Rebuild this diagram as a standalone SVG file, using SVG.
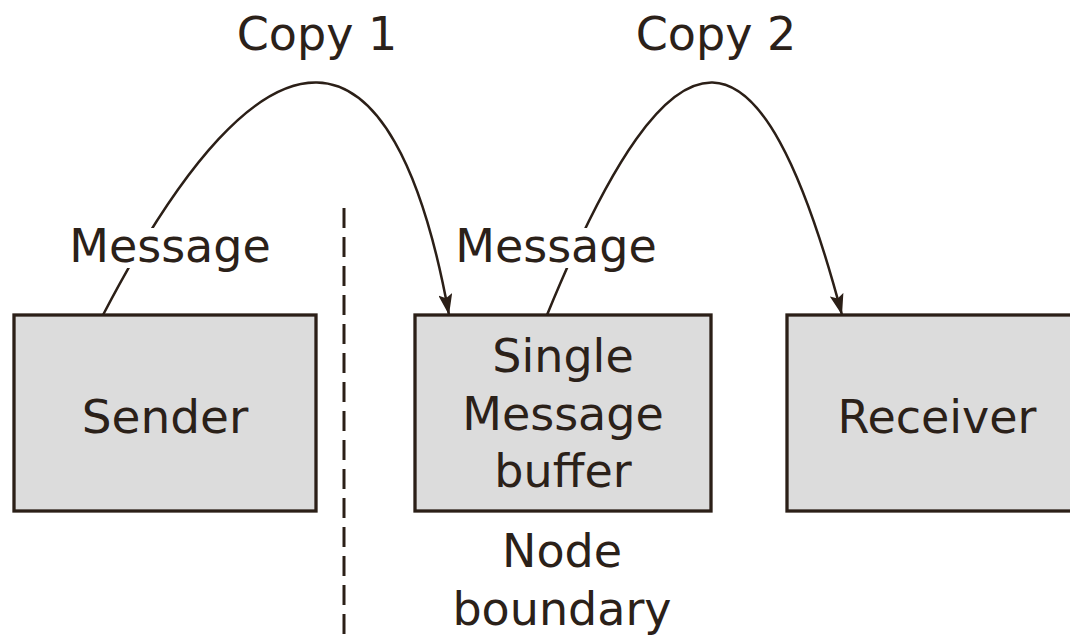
<svg xmlns="http://www.w3.org/2000/svg" width="1070" height="636" viewBox="0 0 1070 636">
<style>
.box{fill:#dcdcdc;stroke:#2b1f17;stroke-width:3.3}
.t{font-family:"DejaVu Sans",Verdana,sans-serif;font-size:46px;fill:#2b2119;text-anchor:middle}
.c{fill:none;stroke:#2b1f17;stroke-width:2.5}
</style>
<defs>
<marker id="ah" markerUnits="userSpaceOnUse" markerWidth="22" markerHeight="14" refX="21" refY="7" orient="auto">
<path d="M0,0 L21,7 L0,14 L4,7 Z" fill="#2b1f17"/>
</marker>
</defs>
<rect width="1070" height="636" fill="#ffffff"/>
<g id="boundary">
<line x1="344" y1="208" x2="344" y2="636" stroke="#2b1f17" stroke-width="3" stroke-dasharray="20 9"/>
<text class="t" x="562" y="567">Node</text>
<text class="t" x="562" y="625">boundary</text>
</g>
<g id="connectors">
<path class="c" d="M103,315 C267,0 394,10 449,315" marker-end="url(#ah)"/>
<path class="c" d="M547,315 C676,0 761,10 842,315" marker-end="url(#ah)"/>
<rect x="72" y="228" width="196" height="40" fill="#ffffff"/>
<rect x="456" y="228" width="200" height="40" fill="#ffffff"/>
<text class="t" x="170" y="262">Message</text>
<text class="t" x="556" y="262">Message</text>
<text class="t" x="317" y="50">Copy 1</text>
<text class="t" x="716" y="50">Copy 2</text>
</g>
<g id="sender">
<rect class="box" x="14" y="315" width="302" height="196"/>
<text class="t" x="165" y="433" style="font-size:47px">Sender</text>
</g>
<g id="buffer">
<rect class="box" x="415" y="315" width="296" height="196"/>
<text class="t" x="563" y="372">Single</text>
<text class="t" x="563" y="430">Message</text>
<text class="t" x="563" y="487">buffer</text>
</g>
<g id="receiver">
<rect class="box" x="787" y="315" width="300" height="196"/>
<text class="t" x="937" y="433">Receiver</text>
</g>
</svg>
